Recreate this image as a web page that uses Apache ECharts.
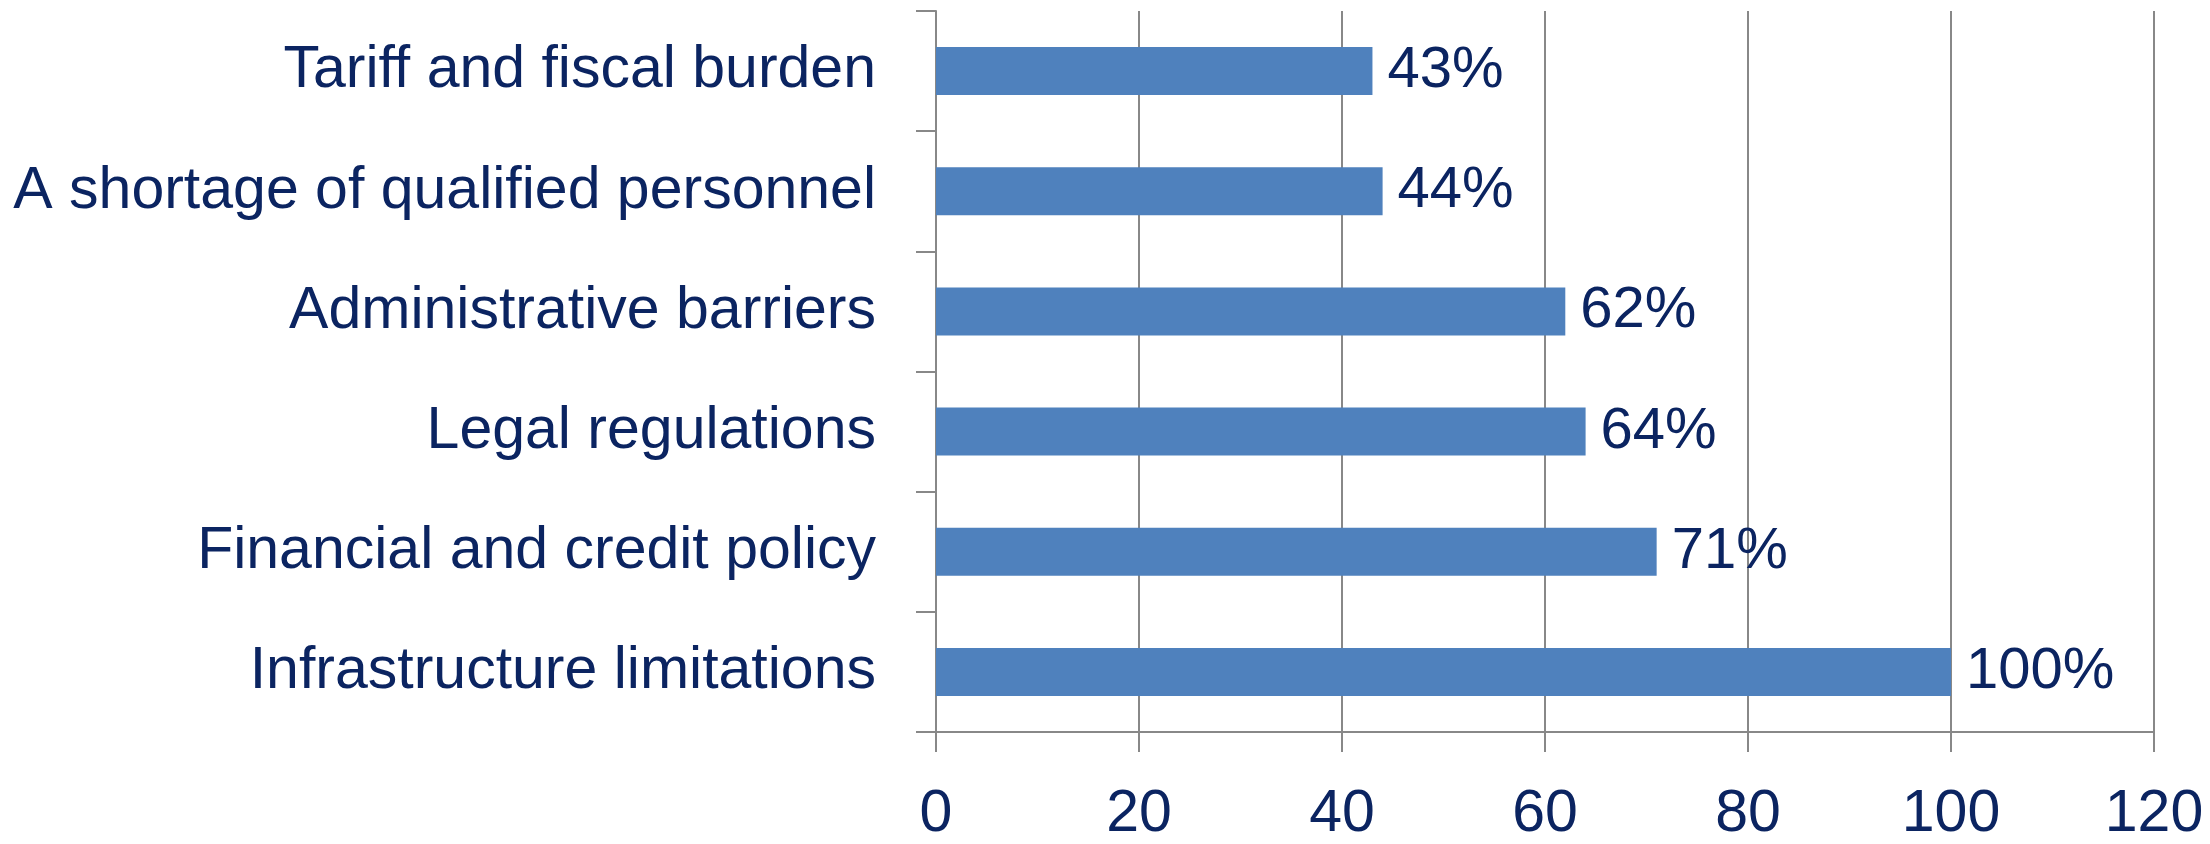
<!DOCTYPE html>
<html>
<head>
<meta charset="utf-8">
<script src="https://cdn.jsdelivr.net/npm/echarts@6/dist/echarts.min.js"></script>
<style>
  html, body { margin: 0; padding: 0; background: #fff; }
  #chart { width: 2210px; height: 844px; }
</style>
</head>
<body>
<div id="chart"></div>
<script>
// categories, bottom to top
const categories = [
  'Infrastructure limitations',
  'Financial and credit policy',
  'Legal regulations',
  'Administrative barriers',
  'A shortage of qualified personnel',
  'Tariff and fiscal burden'
];
const values = [100, 71, 64, 62, 44, 43];

const textColor = '#0b2461';
const lineColor = '#888888';
const fontFamily = '"Liberation Sans", Arial, sans-serif';

const chart = echarts.init(document.getElementById('chart'));

chart.setOption({
  animation: false,
  grid: { left: 936, right: 56, top: 11, bottom: 107 },
  xAxis: {
    type: 'value',
    min: 0,
    max: 120,
    interval: 20,
    axisLine: { show: true, lineStyle: { color: lineColor, width: 2 } },
    axisTick: { show: true, length: 20, lineStyle: { color: lineColor, width: 2 } },
    splitLine: { show: true, lineStyle: { color: lineColor, width: 2 } },
    axisLabel: { color: textColor, fontSize: 59, fontFamily: fontFamily, margin: 53 }
  },
  yAxis: {
    type: 'category',
    data: categories,
    axisLine: { show: true, lineStyle: { color: lineColor, width: 2 } },
    axisTick: { show: true, length: 20, lineStyle: { color: lineColor, width: 2 } },
    axisLabel: { color: textColor, fontSize: 59, fontFamily: fontFamily, margin: 60 }
  },
  series: [{
    type: 'bar',
    data: values,
    barCategoryGap: '60%',
    itemStyle: { color: '#4f81bd' },
    label: {
      show: true,
      position: 'right',
      distance: 15,
      formatter: '{c}%',
      color: textColor,
      fontSize: 58,
      fontFamily: fontFamily
    }
  }]
});
</script>
</body>
</html>
